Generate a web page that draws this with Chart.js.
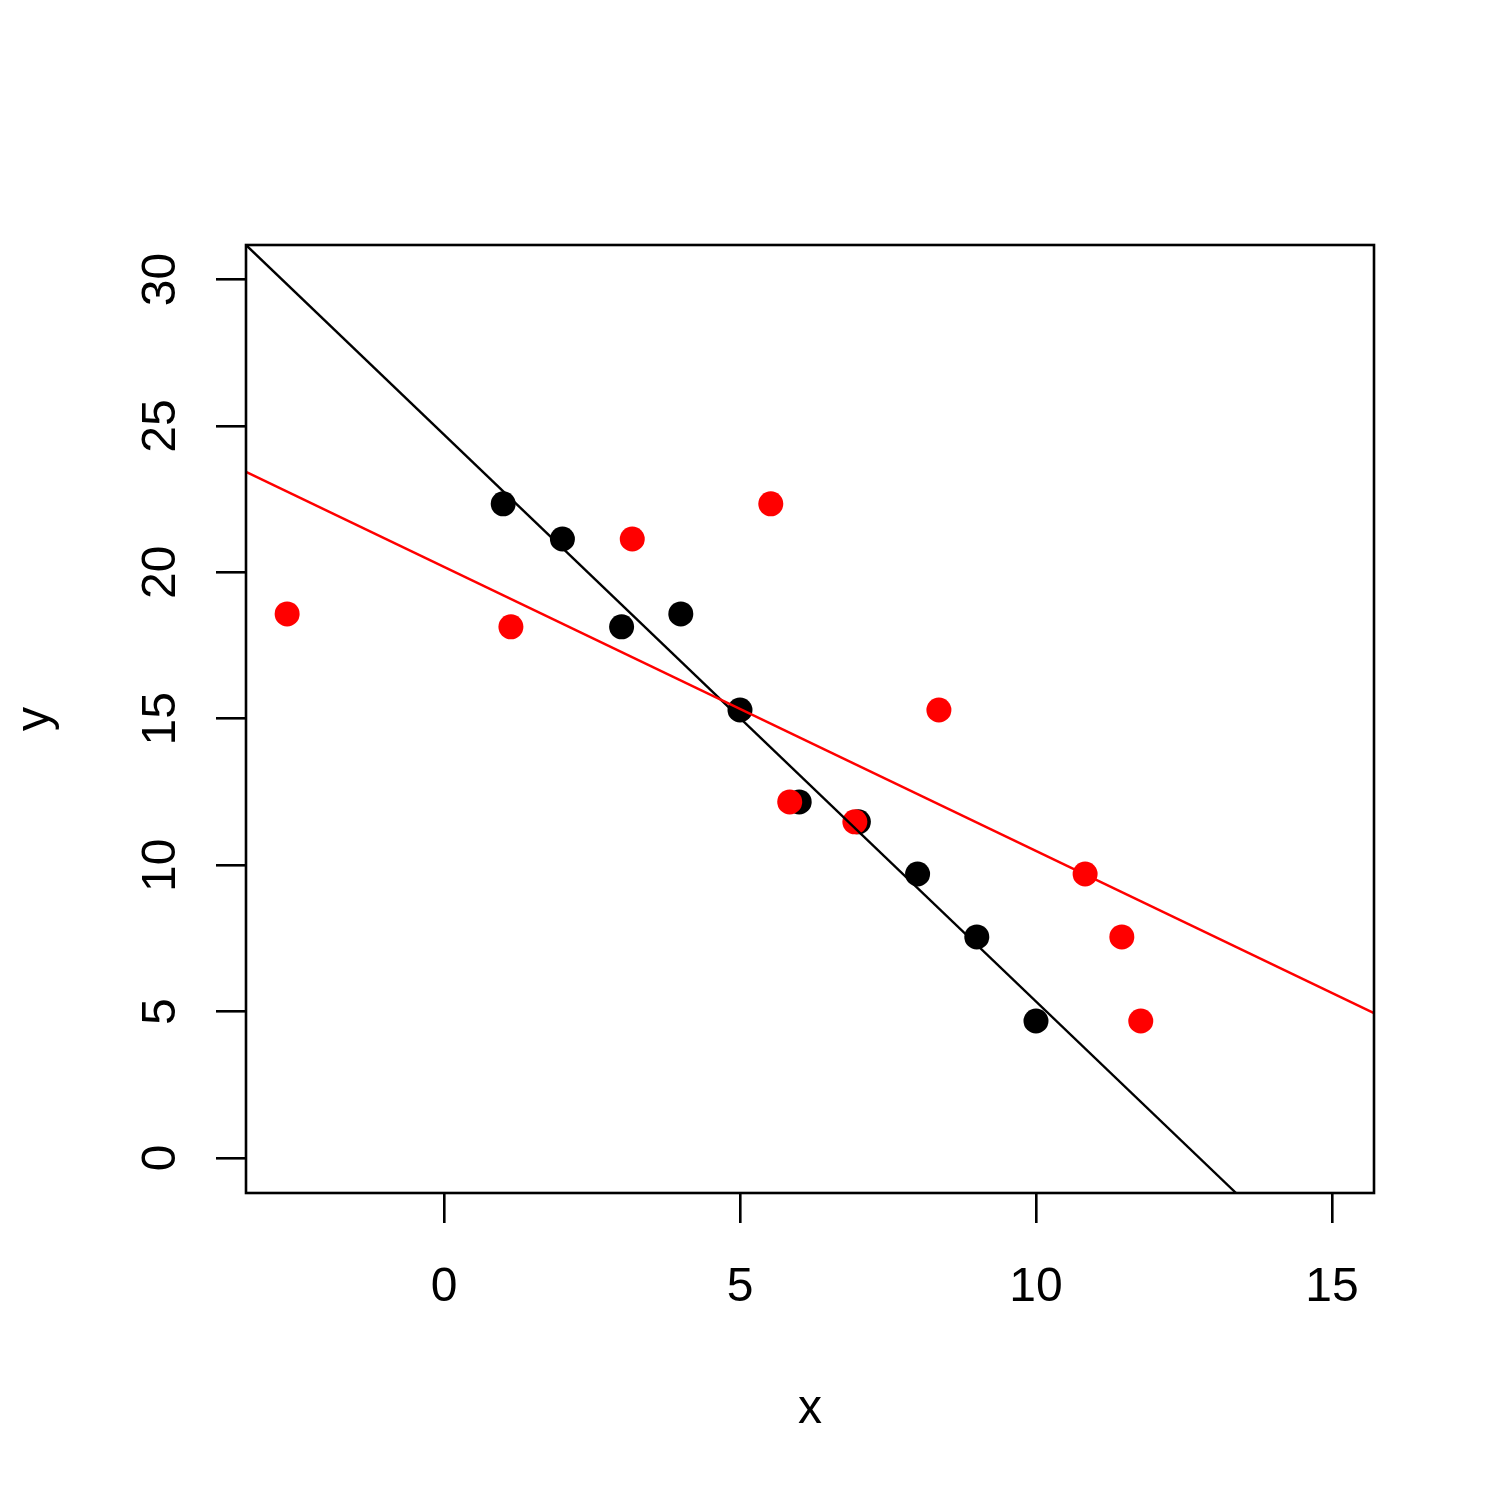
<!DOCTYPE html>
<html>
<head>
<meta charset="utf-8">
<script src="https://cdn.jsdelivr.net/npm/chart.js@4/dist/chart.umd.min.js"></script>
<style>
  html, body { margin: 0; padding: 0; background: #ffffff; }
  #wrap { width: 1500px; height: 1500px; }
</style>
</head>
<body>
<div id="wrap"><canvas id="c" width="1500" height="1500"></canvas></div>
<script>
// ---- data ----
const blackX = [1, 2, 3, 4, 5, 6, 7, 8, 9, 10];
const blackY = [22.34, 21.14, 18.14, 18.58, 15.30, 12.16, 11.48, 9.70, 7.55, 4.68];
const redX = [-2.65, 1.13, 3.18, 5.52, 8.36, 5.84, 6.94, 10.83, 11.45, 11.77];
const redY = [18.58, 18.14, 21.14, 22.34, 15.30, 12.16, 11.48, 9.70, 7.55, 4.68];
// fitted lines: endpoints where they meet the plot frame
const blackLineX = [-3.345, 13.38];
const blackLineY = [31.18, -1.195];
const redLineX = [-3.345, 15.71];
const redLineY = [23.43, 4.95];
const xTicks = [0, 5, 10, 15];
const yTicks = [0, 5, 10, 15, 20, 25, 30];
const xRange = [-3.345, 15.71];
const yRange = [-1.195, 31.18];
const xTitle = 'x';
const yTitle = 'y';

const toPts = (xs, ys) => xs.map((v, i) => ({ x: v, y: ys[i] }));
const FONT = '"Liberation Sans", Arial, Helvetica, sans-serif';

const framePlugin = {
  id: 'frame',
  afterDraw(chart) {
    const { ctx, chartArea: a, scales } = chart;
    ctx.save();
    ctx.strokeStyle = '#000';
    ctx.lineWidth = 2.6;
    ctx.strokeRect(a.left, a.top, a.right - a.left, a.bottom - a.top);
    // rotated y tick labels
    ctx.fillStyle = '#000';
    ctx.font = '48px ' + FONT;
    ctx.textAlign = 'center';
    ctx.textBaseline = 'alphabetic';
    const ys = scales.y;
    yTicks.forEach(v => {
      const py = ys.getPixelForValue(v);
      ctx.save();
      ctx.translate(175, py);
      ctx.rotate(-Math.PI / 2);
      ctx.fillText(String(v), 0, 0);
      ctx.restore();
    });
    ctx.restore();
  }
};

new Chart(document.getElementById('c'), {
  type: 'scatter',
  data: {
    datasets: [
      {
        label: 'black',
        data: toPts(blackX, blackY),
        backgroundColor: '#000000',
        borderWidth: 0,
        pointRadius: 12.5,
        pointHoverRadius: 12.5,
        order: 4
      },
      {
        label: 'red',
        data: toPts(redX, redY),
        backgroundColor: '#ff0000',
        borderWidth: 0,
        pointRadius: 12.5,
        pointHoverRadius: 12.5,
        order: 3
      },
      {
        type: 'line',
        label: 'black fit',
        data: toPts(blackLineX, blackLineY),
        borderColor: '#000000',
        borderWidth: 2.4,
        pointRadius: 0,
        fill: false,
        order: 2
      },
      {
        type: 'line',
        label: 'red fit',
        data: toPts(redLineX, redLineY),
        borderColor: '#ff0000',
        borderWidth: 2.4,
        pointRadius: 0,
        fill: false,
        order: 1
      }
    ]
  },
  options: {
    responsive: false,
    animation: false,
    events: [],
    layout: { padding: { top: 245, right: 126, left: 0, bottom: 0 } },
    plugins: { legend: { display: false }, tooltip: { enabled: false } },
    scales: {
      x: {
        type: 'linear',
        min: xRange[0],
        max: xRange[1],
        afterBuildTicks(scale) { scale.ticks = xTicks.map(v => ({ value: v })); },
        afterFit(scale) { scale.height = 307; },
        border: { display: false },
        grid: { display: true, drawOnChartArea: false, drawTicks: true, tickLength: 30, color: '#000', lineWidth: 2.6 },
        ticks: { color: '#000', font: { family: FONT, size: 48 }, padding: 36, maxRotation: 0, autoSkip: false },
        title: { display: true, text: xTitle, color: '#000', font: { family: FONT, size: 48 }, padding: { top: 0, bottom: 61 } }
      },
      y: {
        type: 'linear',
        min: yRange[0],
        max: yRange[1],
        afterBuildTicks(scale) { scale.ticks = yTicks.map(v => ({ value: v })); },
        afterFit(scale) { scale.width = 246; },
        border: { display: false },
        grid: { display: true, drawOnChartArea: false, drawTicks: true, tickLength: 30, color: '#000', lineWidth: 2.6 },
        ticks: { display: false },
        title: { display: true, text: yTitle, color: '#000', font: { family: FONT, size: 48 }, padding: { top: 7, bottom: 0 } }
      }
    }
  },
  plugins: [framePlugin]
});
</script>
</body>
</html>
